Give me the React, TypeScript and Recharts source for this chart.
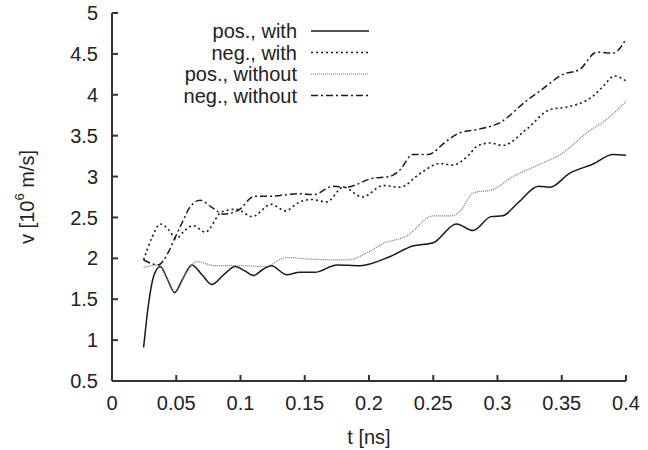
import { LineChart, Line, XAxis, YAxis } from "recharts"

// time [ns] and velocity [10^6 m/s] for each run
const posWithT = [0.0246, 0.0285, 0.0324, 0.0376, 0.043, 0.0487, 0.055, 0.0622, 0.07, 0.0778, 0.087, 0.0959, 0.103, 0.11, 0.117, 0.124, 0.136, 0.146, 0.158, 0.175, 0.193, 0.216, 0.234, 0.25, 0.268, 0.281, 0.295, 0.304, 0.316, 0.332, 0.341, 0.356, 0.374, 0.39, 0.4]
const posWithV = [0.91, 1.45, 1.78, 1.9, 1.75, 1.58, 1.75, 1.92, 1.8, 1.68, 1.8, 1.9, 1.85, 1.79, 1.86, 1.91, 1.8, 1.83, 1.83, 1.92, 1.91, 2.02, 2.15, 2.19, 2.42, 2.34, 2.51, 2.52, 2.68, 2.88, 2.87, 3.04, 3.15, 3.27, 3.26]

const negWithT = [0.0246, 0.031, 0.0376, 0.044, 0.0498, 0.056, 0.063, 0.0726, 0.0855, 0.097, 0.109, 0.124, 0.135, 0.145, 0.155, 0.167, 0.18, 0.195, 0.211, 0.224, 0.24, 0.255, 0.265, 0.278, 0.284, 0.294, 0.304, 0.322, 0.341, 0.354, 0.374, 0.382, 0.391, 0.4]
const negWithV = [1.98, 2.25, 2.42, 2.35, 2.24, 2.33, 2.4, 2.32, 2.57, 2.6, 2.51, 2.66, 2.58, 2.68, 2.72, 2.69, 2.87, 2.75, 2.89, 2.87, 3.04, 3.16, 3.14, 3.27, 3.37, 3.41, 3.38, 3.57, 3.82, 3.85, 3.98, 4.1, 4.23, 4.17]

const posWithoutT = [0.0246, 0.0363, 0.043, 0.049, 0.057, 0.066, 0.08, 0.1, 0.119, 0.136, 0.155, 0.183, 0.2, 0.211, 0.229, 0.25, 0.264, 0.2706, 0.281, 0.296, 0.312, 0.333, 0.351, 0.369, 0.385, 0.4]
const posWithoutV = [1.89, 1.92, 1.75, 1.59, 1.8, 1.96, 1.91, 1.91, 1.9, 2.01, 1.99, 1.98, 2.08, 2.18, 2.27, 2.52, 2.52, 2.57, 2.8, 2.84, 3.0, 3.15, 3.29, 3.53, 3.7, 3.92]

const negWithoutT = [0.0246, 0.036, 0.043, 0.049, 0.055, 0.06, 0.0687, 0.078, 0.087, 0.0985, 0.111, 0.124, 0.145, 0.157, 0.172, 0.182, 0.203, 0.216, 0.224, 0.234, 0.246, 0.26, 0.27, 0.286, 0.302, 0.322, 0.335, 0.351, 0.364, 0.377, 0.39, 0.4]
const negWithoutV = [1.98, 1.92, 2.05, 2.25, 2.45, 2.61, 2.71, 2.62, 2.54, 2.59, 2.76, 2.76, 2.79, 2.78, 2.88, 2.87, 2.98, 3.0, 3.08, 3.27, 3.27, 3.43, 3.53, 3.58, 3.66, 3.92, 4.07, 4.25, 4.31, 4.52, 4.51, 4.68]

const xTicks = [0, 0.05, 0.1, 0.15, 0.2, 0.25, 0.3, 0.35, 0.4]
const yTicks = [0.5, 1, 1.5, 2, 2.5, 3, 3.5, 4, 4.5, 5]

const toPoints = (ts: number[], vs: number[]) => ts.map((t, i) => ({ t, v: vs[i] }))

const series = [
  { name: "pos., with", data: toPoints(posWithT, posWithV), color: "#1a1a1a", dash: undefined, width: 1.5 },
  { name: "neg., with", data: toPoints(negWithT, negWithV), color: "#1a1a1a", dash: "2 3", width: 1.6 },
  { name: "pos., without", data: toPoints(posWithoutT, posWithoutV), color: "#777", dash: "1 1", width: 1.2 },
  { name: "neg., without", data: toPoints(negWithoutT, negWithoutV), color: "#1a1a1a", dash: "7 3 2 3", width: 1.5 },
]

const FONT = "'Liberation Sans', Arial, sans-serif"
const FS = 20
const AXIS = "#333"

const YTitle = (props: any) => {
  const vb = props.viewBox
  const cx = vb.x + 27
  const cy = vb.y + vb.height / 2
  return (
    <text x={cx} y={cy} transform={`rotate(-90 ${cx} ${cy})`} textAnchor="middle" dominantBaseline="central" fontSize={FS} fontFamily={FONT} fill="#222">
      v [10<tspan dy={-8} fontSize={13}>6</tspan><tspan dy={8}> m/s]</tspan>
    </text>
  )
}

const XTitle = (props: any) => {
  const vb = props.viewBox
  return (
    <text x={vb.x + vb.width / 2} y={vb.y + 56} textAnchor="middle" dominantBaseline="central" fontSize={FS} fontFamily={FONT} fill="#222">
      t [ns]
    </text>
  )
}

export default function App() {
  return (
    <div style={{ position: "absolute", left: 0, top: 0, width: 648, height: 450, background: "#fff" }}>
      <LineChart width={648} height={450} margin={{ top: 13, right: 22, left: 0, bottom: 0 }} style={{ fontFamily: FONT }}>
        <XAxis
          type="number"
          dataKey="t"
          domain={[0, 0.4]}
          ticks={xTicks}
          allowDataOverflow
          height={69}
          tickSize={-6}
          tickMargin={21}
          stroke={AXIS}
          strokeWidth={2}
          tick={{ fill: "#222", fontSize: FS, fontFamily: FONT }}
          label={{ content: XTitle }}
        />
        <XAxis xAxisId="top" orientation="top" type="number" dataKey="t" domain={[0, 0.4]} ticks={xTicks} allowDataOverflow height={0} tickSize={-6} tick={false} stroke={AXIS} strokeWidth={2} />
        <YAxis
          type="number"
          domain={[0.5, 5]}
          ticks={yTicks}
          allowDataOverflow
          width={112}
          tickSize={-6}
          tickMargin={20}
          stroke={AXIS}
          strokeWidth={2}
          tick={{ fill: "#222", fontSize: FS, fontFamily: FONT }}
          label={{ content: YTitle }}
        />
        <YAxis yAxisId="right" orientation="right" type="number" domain={[0.5, 5]} ticks={yTicks} allowDataOverflow width={0} tickSize={-6} tick={false} stroke={AXIS} strokeWidth={2} />
        {series.map((s) => (
          <Line
            key={s.name}
            data={s.data}
            dataKey="v"
            name={s.name}
            type="monotone"
            stroke={s.color}
            strokeWidth={s.width}
            strokeDasharray={s.dash}
            dot={false}
            activeDot={false}
            isAnimationActive={false}
          />
        ))}
      </LineChart>
      <svg width={648} height={120} style={{ position: "absolute", left: 0, top: 0, pointerEvents: "none" }}>
        {series.map((s, i) => {
          const y = 31 + i * 21.5
          return (
            <g key={s.name}>
              <text x={297} y={y} textAnchor="end" dominantBaseline="central" fontSize={FS} fontFamily={FONT} fill="#222">
                {s.name}
              </text>
              <line x1={311} x2={369} y1={y} y2={y} stroke={s.color} strokeWidth={s.width} strokeDasharray={s.dash} />
            </g>
          )
        })}
      </svg>
    </div>
  )
}
